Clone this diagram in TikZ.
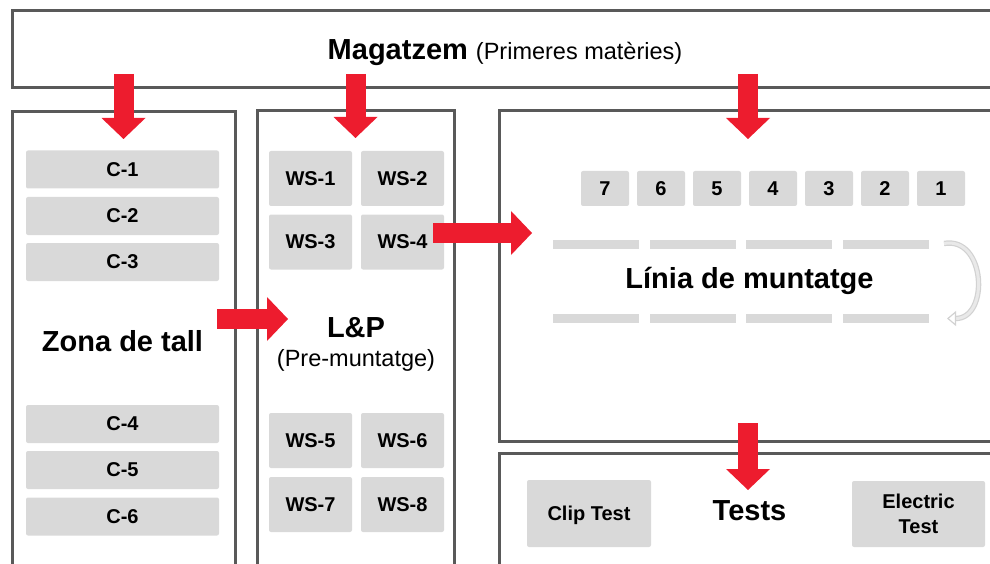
\documentclass[tikz,border=0pt]{standalone}
\usepackage{fontspec}
\setmainfont{Liberation Sans}
\usetikzlibrary{arrows.meta,positioning,calc}

\definecolor{wallgray}{HTML}{595959}
\definecolor{boxgray}{HTML}{D9D9D9}
\definecolor{flowred}{HTML}{ED1C2E}
\definecolor{loopgray}{HTML}{D2D2D2}
\definecolor{loopfill}{HTML}{E9E9E9}

\tikzset{
  zone/.style={draw=wallgray, line width=3pt, inner sep=0pt, outer sep=0pt, anchor=north west},
  cell/.style={fill=boxgray, rounded corners=2pt, inner sep=0pt, outer sep=0pt, text depth=0pt,
    align=center, font=\bfseries\fontsize{20}{25}\selectfont},
  bar/.style={fill=boxgray, minimum width=86pt, minimum height=9pt, inner sep=0pt, outer sep=0pt},
  title/.style={anchor=base, inner sep=0pt, font=\bfseries\fontsize{29}{34}\selectfont},
  flow/.style={flowred, line width=20pt, -{Triangle[width=44pt,length=21pt,line width=0pt]}},
}

\begin{document}
\begin{tikzpicture}[x=1pt,y=-1pt]
  \useasboundingbox (0,0) rectangle (990,564);
  \clip (0,0) rectangle (990,564);

  % plant zones
  \node[zone, minimum width=985pt, minimum height=77pt] (mag) at (12,11) {};
  \node[zone, minimum width=223pt, minimum height=470pt] (zona) at (12,112) {};
  \node[zone, minimum width=197pt, minimum height=470pt] (lp) at (257,111) {};
  \node[zone, minimum width=498pt, minimum height=330pt] (linia) at (499,111) {};
  \node[zone, minimum width=498pt, minimum height=130pt] (tests) at (499,453) {};

  % zone titles
  \node[title] (magtitle) at (505,60) {Magatzem {\mdseries\fontsize{23.5}{28}\selectfont(Primeres matèries)}};
  \node[title] (zonatitle) at (122.5,351) {Zona de tall};
  \node[title] (lptitle) at (356,337) {L\&P};
  \node[title, font=\fontsize{23.5}{28}\selectfont] (lpsub) at (356,366) {(Pre-muntatge)};
  \node[title] (liniatitle) at (749.5,288) {Línia de muntatge};
  \node[title] (teststitle) at (749.5,520) {Tests};

  % cutting machines
  \foreach \y [count=\i] in {169.5,216,262,424,470,516.5}
    \node[cell, minimum width=193pt, minimum height=38pt] (c\i) at (122.5,\y) {C-\i};

  % workstations
  \foreach \y/\a/\b in {178.5/1/2, 242/3/4, 440.5/5/6, 504.5/7/8} {
    \node[cell, minimum width=83pt, minimum height=55pt] (ws\a) at (310.5,\y) {WS-\a};
    \node[cell, minimum width=83pt, minimum height=55pt] (ws\b) at (402.5,\y) {WS-\b};
  }

  % line stations
  \foreach \n [count=\i from 0] in {7,6,5,4,3,2,1}
    \node[cell, minimum width=48pt, minimum height=35pt] (st\n) at (605+56*\i,188.5) {\n};

  % conveyor
  \foreach \x [count=\i] in {596,693,789,886} {
    \node[bar] (up\i) at (\x,244.5) {};
    \node[bar] (dn\i) at (\x,318.5) {};
  }
  \draw[draw=loopgray, line width=1.2pt, double=loopfill, double distance=3pt,
        -{Triangle[length=9pt,width=15pt,open]}]
    ($(up4.east)+(15,-1)$) to[out=10,in=0,looseness=1.45] ($(dn4.east)+(18,0)$);

  % material flow
  \draw[flow] ($(mag.south -| zona.north)+(0,-14)$) -- ($(zona.north)+(0,27)$);
  \draw[flow] ($(mag.south -| lp.north)+(0,-14)$) -- ($(lp.north)+(0,27)$);
  \draw[flow] ($(mag.south -| linia.north)+(0,-14)$) -- ($(linia.north)+(0,28)$);
  \draw[flow] ($(linia.south)+(0,-18)$) -- ($(tests.north)+(0,37)$);
  \draw[flow] ($(zona.east |- lptitle.base)+(-18,-18)$) -- ($(lp.west |- lptitle.base)+(31,-18)$);
  \draw[flow] ($(ws4.east)+(-11,-9)$) -- ($(linia.west |- ws4.east)+(33,-9)$);

  % test benches
  \node[cell, minimum width=124pt, minimum height=67pt] (clip) at (589,513.5) {Clip Test};
  \node[cell, minimum width=133pt, minimum height=66pt] (elec) at (918.5,514) {Electric\\Test};
\end{tikzpicture}
\end{document}
